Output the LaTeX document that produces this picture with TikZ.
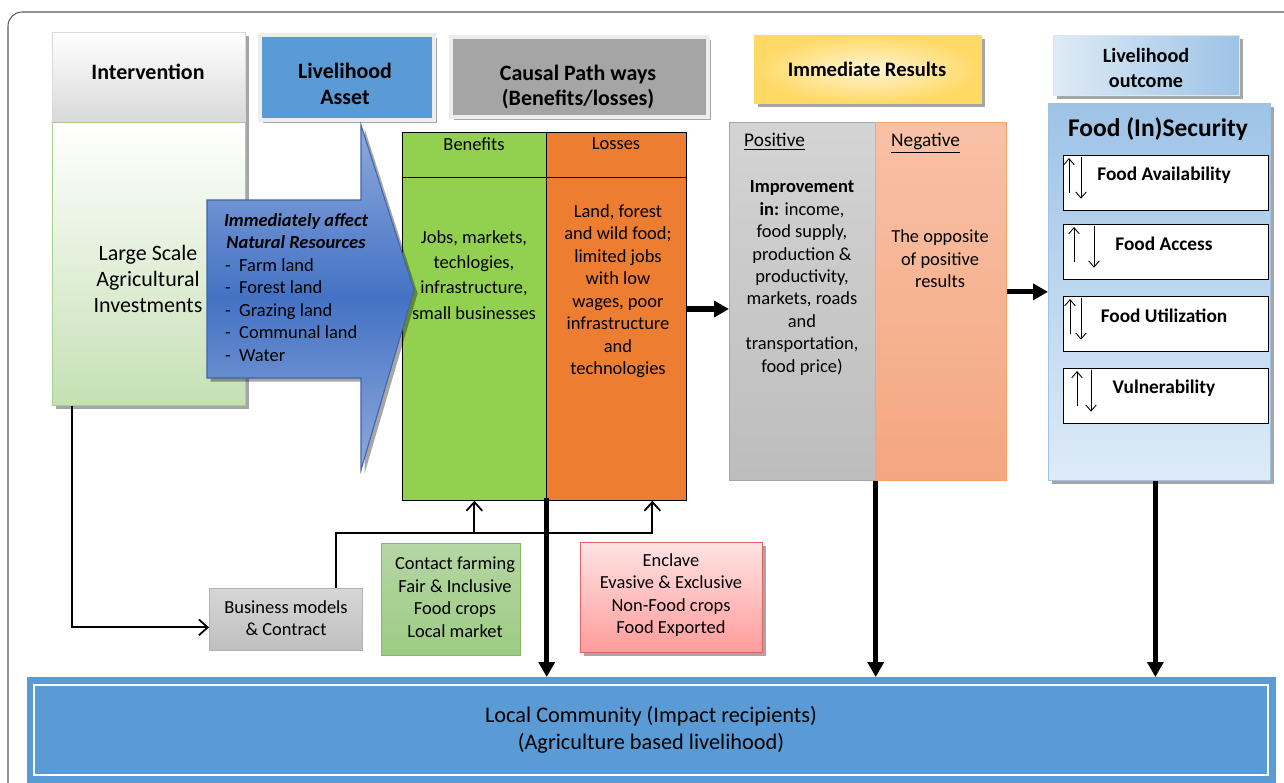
\documentclass[tikz,border=0pt]{standalone}
\usepackage{fontspec}
\setmainfont{Carlito}
\usetikzlibrary{arrows.meta,shadows}

\definecolor{assetblue}{HTML}{5B9BD5}
\definecolor{causalgray}{HTML}{A5A5A5}
\definecolor{bengreen}{HTML}{92D050}
\definecolor{lossorange}{HTML}{ED7D31}
\definecolor{invgreen}{HTML}{C5E0B4}
\definecolor{invline}{HTML}{A9D18E}
\definecolor{nrlight}{HTML}{8FAADC}
\definecolor{nrdark}{HTML}{4472C4}
\definecolor{nrline}{HTML}{3F64AE}
\definecolor{immin}{HTML}{FFF4D4}
\definecolor{immout}{HTML}{FFD966}
\definecolor{posline}{HTML}{A6A6A6}
\definecolor{negtop}{HTML}{F8C1A6}
\definecolor{negbot}{HTML}{F4A680}
\definecolor{negline}{HTML}{F8A36A}
\definecolor{lolight}{HTML}{DEEBF7}
\definecolor{lodark}{HTML}{9DC3E6}
\definecolor{cftop}{HTML}{B5D6A2}
\definecolor{cfbot}{HTML}{9DCB84}
\definecolor{cfline}{HTML}{82BB62}
\definecolor{enctop}{HTML}{FFE3E3}
\definecolor{encbot}{HTML}{FF9C9C}
\definecolor{encline}{HTML}{E06666}

\newcommand\itm[1]{\makebox[0.28cm][l]{-}#1}

\tikzset{
  blk/.style 2 args={draw, anchor=north west, inner sep=0pt,
    minimum width=#1*0.02cm, minimum height=#2*0.02cm},
  hd/.style={font=\bfseries\fontsize{12.5}{14.7}\selectfont, align=center},
  txt/.style={font=\fontsize{10.5}{12.8}\selectfont, align=center},
  shad/.style={drop shadow={shadow xshift=2pt, shadow yshift=-2pt, opacity=0.35, fill=black}},
  bigarr/.style={line width=3pt, -{Triangle[length=8.5pt,width=9pt]}},
  linkarr/.style={line width=1pt, -{Straight Barb[length=5pt,width=9pt]}},
  updn/.style={line width=0.5pt, -{Straight Barb[length=3.5pt,width=6pt]}},
}

\begin{document}
\begin{tikzpicture}[x=0.02cm,y=-0.02cm]
    \useasboundingbox (0,0) rectangle (1284,782);
    \draw[black!65, line width=0.6pt, rounded corners=8pt] (8,800) -- (8,12) -- (1300,12);

    % intervention
    \node[blk={193}{90}, draw=black!15, top color=white, bottom color=black!15, shad] (inter) at (52,32) {};
    \node[hd] (tinter) at (148,72) {Intervention};
    \node[blk={193}{283}, draw=invline, top color=white, bottom color=invgreen, shad] (large) at (52,122) {};
    \node[font=\fontsize{12.5}{14.7}\selectfont, align=center] (tlarge) at (148,279) {Large Scale\\Agricultural\\Investments};

    % livelihood asset
    \node[blk={174}{85}, draw=black!7, line width=2pt, fill=assetblue, shad] (asset) at (258,33) {};
    \node[hd] (tasset) at (345,84) {Livelihood\\Asset};

    % causal path ways
    \node[blk={257}{80}, draw=black!7, line width=2pt, fill=causalgray, shad] (causal) at (449,35) {};
    \node[hd] (tcausal) at (578,87) {Causal Path ways\\(Benefits/losses)};
    \node[blk={144}{45}, fill=bengreen] (benh) at (402,132) {};
    \node[txt] (tbenh) at (474,144) {Benefits};
    \node[blk={140}{45}, fill=lossorange] (lossh) at (546,132) {};
    \node[txt] (tlossh) at (616,144) {Losses};
    \node[blk={144}{323}, fill=bengreen] (ben) at (402,177) {};
    \node[blk={140}{323}, fill=lossorange] (loss) at (546,177) {};
    \node[txt, font=\fontsize{10.5}{14.4}\selectfont] (tben) at (474,275) {Jobs, markets,\\techlogies,\\infrastructure,\\small businesses};
    \node[txt] (tloss) at (618,291) {Land, forest\\and wild food;\\limited jobs\\with low\\wages, poor\\infrastructure\\and\\technologies};

    % natural resources arrow
    \path[draw=nrline, line width=0.6pt, top color=nrlight, bottom color=nrlight, middle color=nrdark, shad]
        (207,200) -- (361,200) -- (361,125) -- (414,290) -- (361,470) -- (361,378) -- (207,378) -- cycle;
    \node[font=\bfseries\itshape\fontsize{10.5}{12.8}\selectfont, align=center] (tnr) at (296,231) {Immediately affect\\Natural Resources};
    \node[font=\fontsize{10.5}{12.8}\selectfont, align=left, anchor=west] (tlist) at (219,310)
        {\itm{Farm land}\\\itm{Forest land}\\\itm{Grazing land}\\\itm{Communal land}\\\itm{Water}};

    % immediate results
    \node[blk={227}{68}, draw=immout, inner color=immin, outer color=immout, shad] (imm) at (754,35) {};
    \node[hd, font=\bfseries\fontsize{11.7}{13.5}\selectfont] (timm) at (867,69) {Immediate Results};
    \node[blk={146}{358}, draw=posline, top color=black!17, bottom color=black!26] (pos) at (729,122) {};
    \node[font=\fontsize{11}{13}\selectfont, anchor=west] (tpos) at (738,142) {\underline{Positive}};
    \node[txt] (tposb) at (802,278) {\textbf{Improvement}\\\textbf{in:} income,\\food supply,\\production \&\\productivity,\\markets, roads\\and\\transportation,\\food price)};
    \node[blk={131}{358}, draw=negline, top color=negtop, bottom color=negbot] (neg) at (875,122) {};
    \node[font=\fontsize{11}{13}\selectfont, anchor=west] (tneg) at (885,143) {\underline{Negative}};
    \node[txt] (tnegb) at (940,259) {The opposite\\of positive\\results};

    % livelihood outcome
    \node[blk={186}{60}, draw=black!10, left color=lolight, right color=lodark, shad] (lo) at (1053,35) {};
    \node[hd, font=\bfseries\fontsize{11.5}{14}\selectfont] (tlo) at (1146,68) {Livelihood\\outcome};
    \node[blk={222}{377}, draw=lodark, top color=lodark, bottom color=lolight, shad] (food) at (1048,103) {};
    \node[font=\bfseries\fontsize{14.5}{16}\selectfont] (tfood) at (1158,129) {Food (In)Security};
    \foreach \n/\y/\u/\d/\t in {fa/155/6/18/Food Availability, fac/224/11/31/Food Access,
                                fu/296/7/18/Food Utilization, vu/368/14/28/Vulnerability} {
        \node[blk={205}{55}, fill=white] (\n) at (1063,\y) {};
        \node[font=\bfseries\fontsize{11}{13}\selectfont] (t\n) at (1164,\y+20) {\t};
        \draw[updn] ([xshift=\u*0.02cm,yshift=0.36cm]\n.south west) -- ([xshift=\u*0.02cm,yshift=-0.06cm]\n.north west);
        \draw[updn] ([xshift=\d*0.02cm,yshift=-0.04cm]\n.north west) -- ([xshift=\d*0.02cm,yshift=0.24cm]\n.south west);
    }

    % business models
    \node[blk={153}{62}, draw=black!30, top color=black!16, bottom color=black!25] (bus) at (209,588) {};
    \node[txt] (tbus) at (286,618) {Business models\\\& Contract};
    \node[blk={139}{112}, draw=cfline, top color=cftop, bottom color=cfbot] (cf) at (381,543) {};
    \node[txt] (tcf) at (455,597) {Contact farming\\Fair \& Inclusive\\Food crops\\Local market};
    \node[blk={182}{110}, draw=encline, top color=enctop, bottom color=encbot, shad] (enc) at (580,542) {};
    \node[txt] (tenc) at (671,595) {Enclave\\Evasive \& Exclusive\\Non-Food crops\\Food Exported};

    % local community
    \node[blk={1249}{120}, draw=none, fill=assetblue] (comm) at (27,677) {};
    \draw[white, line width=1.3pt] (34,685) rectangle (1268,775);
    \node[txt, font=\fontsize{12.7}{15.3}\selectfont] (tcomm) at (651,730) {Local Community (Impact recipients)\\(Agriculture based livelihood)};

    % links
    \coordinate (split) at (0,533);
    \coordinate (lossin) at ([xshift=0.72cm]loss.south);
    \draw[linkarr] ([xshift=0.4cm]large.south west) |- ([yshift=-0.16cm]bus.west);
    \draw[linkarr] ([xshift=1cm]bus.north) |- (lossin |- split) -- (lossin);
    \draw[linkarr] (ben.south |- split) -- (ben.south);

    \draw[bigarr] (loss.east |- 0,309) -- (pos.west |- 0,309);
    \draw[bigarr] (neg.east |- food.west) -- (food.west);
    \draw[bigarr] ([yshift=0.06cm]ben.south east) -- (ben.south east |- comm.north);
    \draw[bigarr] (pos.south east) -- (pos.south east |- comm.north);
    \draw[bigarr] ([xshift=-0.08cm]food.south) -- ([xshift=-0.08cm]food.south |- comm.north);
\end{tikzpicture}
\end{document}
